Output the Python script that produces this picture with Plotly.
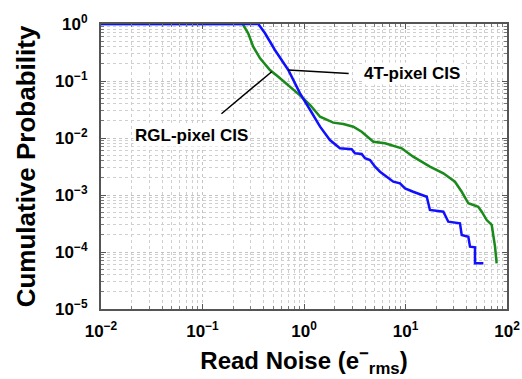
import plotly.graph_objects as go

# ---- data ----
green_x = [0.01, 0.249, 0.282, 0.316, 0.369, 0.462, 0.558, 0.70, 0.914, 1.15, 1.44, 1.94, 2.44,
           3.06, 3.70, 4.82, 6.28, 9.18, 11.9, 17.4, 23.6, 30.7, 35.8, 41.6, 52.1, 56.4, 63.1,
           70.7, 76.2, 79.1, 79.1]
green_y = [1, 1, 0.687, 0.40, 0.25, 0.156, 0.119, 0.0851, 0.056, 0.0379, 0.0236, 0.0186, 0.0176,
           0.0158, 0.0129, 0.00861, 0.00807, 0.0066, 0.0047, 0.00314, 0.0024, 0.00171, 0.00114,
           0.000715, 0.000623, 0.00051, 0.000364, 0.000298, 0.000124, 0.0000634, 0.0000634]

blue_x = [0.01, 0.355, 0.413, 0.517, 0.70, 0.914, 1.15, 1.44, 1.80, 2.26, 2.95, 3.18, 3.70, 3.99,
          4.47, 5.01, 5.61, 7.58, 8.83, 9.89, 11.9, 14.4, 16.2, 17.4, 23.6, 26.4, 34.4, 35.8,
          41.6, 43.2, 48.4, 48.4, 58.5]
blue_y = [1, 1, 0.687, 0.35, 0.156, 0.0608, 0.031, 0.0158, 0.00922, 0.0066, 0.00634, 0.0054,
          0.00524, 0.00441, 0.00411, 0.00314, 0.00256, 0.00171, 0.0016, 0.00131, 0.00114, 0.001,
          0.000933, 0.000546, 0.00051, 0.00034, 0.000319, 0.000199, 0.000185, 0.000124, 0.000121,
          0.0000634, 0.0000634]

x_tickvals = [0.01, 0.1, 1, 10, 100]
x_ticktext = ["10<sup>\u22122</sup>", "10<sup>\u22121</sup>", "10<sup>0</sup>", "10<sup>1</sup>", "10<sup>2</sup>"]
y_tickvals = [1e-5, 1e-4, 1e-3, 1e-2, 1e-1, 1]
y_ticktext = ["10<sup>\u22125</sup>", "10<sup>\u22124</sup>", "10<sup>\u22123</sup>",
              "10<sup>\u22122</sup>", "10<sup>\u22121</sup>", "10<sup>0</sup>"]

labels = ["4T-pixel CIS", "RGL-pixel CIS"]

FONT = "Liberation Sans, Arial, sans-serif"
BLUE = "#1010ff"
GREEN = "#1a8a1a"

x_minor = [m * 10.0 ** e for e in range(-2, 2) for m in range(2, 10)]
y_minor = [m * 10.0 ** e for e in range(-5, 0) for m in range(2, 10)]

fig = go.Figure()
fig.add_trace(go.Scatter(x=green_x, y=green_y, mode="lines",
                         line=dict(color=GREEN, width=2.5), showlegend=False))
fig.add_trace(go.Scatter(x=blue_x, y=blue_y, mode="lines",
                         line=dict(color=BLUE, width=2.5), showlegend=False))

def axis_common(minor_vals):
    return dict(
        type="log", automargin=False,
        showline=True, linecolor="#555555", linewidth=2, mirror="ticks",
        ticks="inside", ticklen=5, tickcolor="#555555", tickwidth=1,
        showgrid=True, gridcolor="#c4c4c4", griddash="dot", gridwidth=1,
        minor=dict(tickvals=minor_vals, showgrid=True, gridcolor="#cfcfcf", griddash="dot",
                   gridwidth=1, ticks="inside", ticklen=3, tickcolor="#777777"),
        tickfont=dict(family=FONT, size=17, color="black", weight="bold"),
        zeroline=False,
    )

fig.update_xaxes(**axis_common(x_minor), range=[-2, 2], tickvals=x_tickvals, ticktext=x_ticktext,
                 ticklabelstandoff=6,
                 title=dict(text="Read Noise (e<sup>\u2212</sup><sub>rms</sub>)",
                            font=dict(family=FONT, size=24, color="black", weight="bold"),
                            standoff=12))
fig.update_yaxes(**axis_common(y_minor), range=[-5, 0], tickvals=y_tickvals, ticktext=y_ticktext,
                 ticklabelstandoff=8,
                 title=dict(text="Cumulative Probability",
                            font=dict(family=FONT, size=26, color="black", weight="bold"),
                            standoff=12))

ann_font = dict(family=FONT, size=17, color="black", weight="bold")
# 4T label with leader line to the blue curve
fig.add_annotation(x=-0.155, y=-0.807, xref="x", yref="y", text="",
                   showarrow=True, arrowhead=0, arrowwidth=1.5, arrowcolor="black",
                   axref="x", ayref="y", ax=0.455, ay=-0.87)
fig.add_annotation(x=1.06, y=-0.86, xref="x", yref="y", text=labels[0], showarrow=False,
                   font=ann_font, bgcolor="white")
# RGL label with leader line to the green curve
fig.add_annotation(x=-0.318, y=-0.837, xref="x", yref="y", text="",
                   showarrow=True, arrowhead=0, arrowwidth=1.5, arrowcolor="black",
                   axref="x", ayref="y", ax=-0.828, ay=-1.596)
fig.add_annotation(x=-1.11, y=-1.96, xref="x", yref="y", text=labels[1], showarrow=False,
                   font=ann_font, bgcolor="white")

fig.update_layout(
    width=522, height=379,
    margin=dict(l=101, r=15, t=24, b=70),
    paper_bgcolor="white", plot_bgcolor="white",
    font=dict(family=FONT, color="black"),
)

fig.write_html("out.html")
